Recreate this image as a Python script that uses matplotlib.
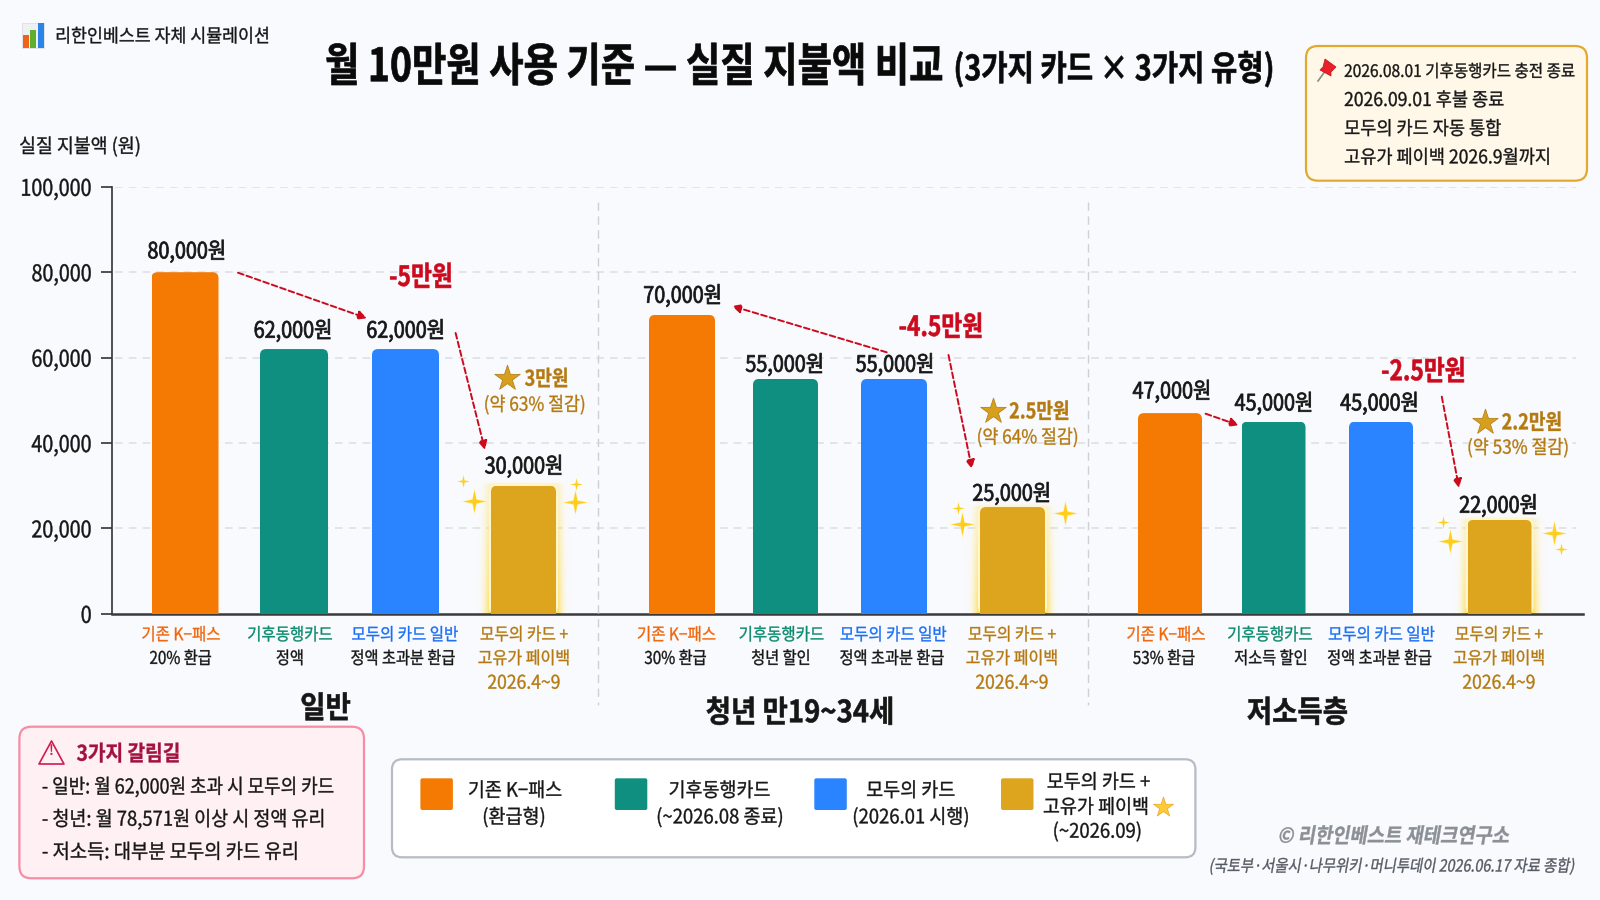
import matplotlib
matplotlib.use('Agg')
import matplotlib.pyplot as plt
import numpy as np
from matplotlib.patches import FancyBboxPatch, Polygon, Rectangle
from matplotlib.path import Path
from matplotlib.patheffects import AbstractPathEffect
from matplotlib.transforms import Affine2D

plt.rcParams['font.family'] = ['Noto Sans CJK KR', 'DejaVu Sans']

# Monthly out-of-pocket cost per card, one list per user group
general = [80000, 62000, 62000, 30000]
youth = [70000, 55000, 55000, 25000]
low_income = [47000, 45000, 45000, 22000]

group_names = ['일반', '청년 만19~34세', '저소득층']
card_names = ['기존 K−패스', '기후동행카드', '모두의 카드 일반']
notes_general = ['20% 환급', '정액', '정액 초과분 환급']
notes_youth = ['30% 환급', '청년 할인', '정액 초과분 환급']
notes_low = ['53% 환급', '저소득 할인', '정액 초과분 환급']
gold_label = ['모두의 카드 +', '고유가 페이백', '2026.4~9']

drop_labels = ['-5만원', '-4.5만원', '-2.5만원']
save_labels = ['3만원', '2.5만원', '2.2만원']
save_notes = ['(약 63% 절감)', '(약 64% 절감)', '(약 53% 절감)']

y_ticks = [0, 20000, 40000, 60000, 80000, 100000]

note_lines = ['2026.08.01 기후동행카드 충전 종료', '2026.09.01 후불 종료',
              '모두의 카드 자동 통합', '고유가 페이백 2026.9월까지']
fork_title = '3가지 갈림길'
fork_lines = ['- 일반: 월 62,000원 초과 시 모두의 카드',
              '- 청년: 월 78,571원 이상 시 정액 유리',
              '- 저소득: 대부분 모두의 카드 유리']

ORANGE = '#F57A03'
GREEN = '#0E8F80'
BLUE = '#2B84FF'
GOLD = '#DDA51E'
BROWN = '#B5790F'
RED = '#CC0A1E'
DARK = '#161616'
BG = '#F9FAFD'
bar_colors = [ORANGE, GREEN, BLUE, GOLD]
label_colors = ['#F0660A', '#0B8A6E', '#1A6FF5']


class Squeeze(AbstractPathEffect):
    # narrows the glyph outlines around the anchor, with optional slant and extra stroke weight
    def __init__(self, sx=0.87, anchor='center', slant=0, stroke=0.25):
        self.sx = sx
        self.anchor = anchor
        self.slant = slant
        self.stroke = stroke

    def draw_path(self, renderer, gc, tpath, affine, rgbFace=None):
        x0, _, x1, _ = tpath.get_extents().extents
        pivot = {'left': x0, 'center': (x0 + x1) / 2, 'right': x1}[self.anchor]
        t = Affine2D().translate(-pivot, 0).scale(self.sx, 1).skew_deg(self.slant, 0).translate(pivot, 0)
        gc0 = renderer.new_gc()
        gc0.copy_properties(gc)
        gc0.set_linewidth(self.stroke)
        gc0.set_foreground(rgbFace)
        renderer.draw_path(gc0, tpath, t + affine, rgbFace)
        gc0.restore()


fig = plt.figure(figsize=(16, 9), dpi=100, facecolor=BG)

# Chart axes use figure pixels across so the groups can be spaced by hand
ax = fig.add_axes([112 / 1600, (900 - 613.8) / 900, (1583 - 112) / 1600, 427 / 900])
ax.set_facecolor('none')

# Overlay for everything placed by pixel
ov = fig.add_axes([0, 0, 1, 1], zorder=5)
ov.set_xlim(0, 1600)
ov.set_ylim(900, 0)
ov.axis('off')


def put(x, y, s, size=13, color=DARK, weight='normal', ha='center', sx=0.87, slant=0, stroke=0.25):
    return ov.text(x, y + 1.2, s, fontsize=size, color=color, fontweight=weight, ha=ha, va='center',
                   path_effects=[Squeeze(sx, ha, slant, stroke)])


def rbox(x0, y0, x1, y1, radius, face, edge='none', lw=0, z=1):
    ov.add_patch(FancyBboxPatch((x0, y0), x1 - x0, y1 - y0, boxstyle=f'round,pad=0,rounding_size={radius}',
                                facecolor=face, edgecolor=edge, linewidth=lw, zorder=z))


# Grid and axis
ax.hlines(y_ticks[1:], 115, 1576, color='#DCDEE2', linewidth=1.1, linestyle=(0, (5, 4)), zorder=0)
for s in ['top', 'right']:
    ax.spines[s].set_visible(False)
ax.spines['left'].set_color('#333333')
ax.spines['left'].set_linewidth(1.2)
ax.spines['bottom'].set_color('#3A3A3A')
ax.spines['bottom'].set_linewidth(1.8)
ax.set_xticks([])
ax.set_yticks(y_ticks)
ax.set_yticklabels([f'{v:,}' for v in y_ticks], fontsize=16.5, color=DARK)
ax.tick_params(axis='y', length=8, width=1.2, color='#333333', pad=6.5)
for lab in ax.get_yticklabels():
    lab.set_path_effects([Squeeze(0.86, 'right', 0, 0.3)])

for xs in [598, 1088]:
    ov.plot([xs, xs], [202, 705], color='#CDD0D5', linewidth=1, linestyle=(0, (6, 4)), zorder=1)

groups = [general, youth, low_income]
notes = [notes_general, notes_youth, notes_low]
centers = [[185, 294, 405.5, 523.5], [682, 785.5, 894, 1012.5], [1170, 1273.5, 1381, 1499.5]]
widths = [[67, 68, 67, 65], [66, 65, 66, 65], [64, 64, 64, 64]]
value_x = [[186.7, 293, 405.6, 524], [682.6, 784.7, 895, 1011.7], [1172, 1274, 1379.6, 1498.5]]
value_y = [[250.7, 330, 330, 465.7], [295, 364, 364, 493], [390.7, 402.7, 402.7, 505]]
name_x = [[181, 290, 405, 524], [676.5, 781.5, 893.4, 1012], [1166, 1270, 1381.6, 1499]]
note_x = [[180.6, 290, 403], [675.5, 781, 892], [1164, 1271, 1379.6]]
group_title_x = [325.5, 800, 1297.5]
group_title_y = [707.7, 712, 712]
y_per_px = 100000 / 427

for g, values in enumerate(groups):
    bars = ax.bar(centers[g], values, width=widths[g], color=bar_colors, zorder=3)
    for i, bar in enumerate(bars):
        x0, w, h = bar.get_x(), bar.get_width(), bar.get_height()
        # round the top corners only, the lower edge runs past the axis
        clip = FancyBboxPatch((x0, -3000), w, h + 3000, boxstyle='round,pad=0,rounding_size=6',
                              mutation_aspect=y_per_px, transform=ax.transData)
        bar.set_clip_path(clip)
        put(value_x[g][i], value_y[g][i], f'{values[i]:,}원', size=16.2, sx=0.88, stroke=0.55)
        if i == 3:
            # soft glow beside the bar, stronger toward the axis
            xx = np.linspace(x0 - 16, x0 + w + 16, 120)
            yy = np.linspace(0, h + 5 * y_per_px, 120)
            gx, gy = np.meshgrid(xx, yy)
            dx = np.clip(np.abs(gx - (x0 + w / 2)) - w / 2, 0, None)
            dy = np.clip(gy - h, 0, None) / y_per_px
            alpha = np.exp(-(dx / 6.5) ** 2) * np.exp(-(dy / 2.5) ** 2) * (0.35 + 0.6 * (1 - np.clip(gy / h, 0, 1)))
            rgba = np.zeros(alpha.shape + (4,))
            rgba[..., :3] = matplotlib.colors.to_rgb('#FFE05A')
            rgba[..., 3] = alpha
            ax.imshow(rgba, extent=(xx[0], xx[-1], 0, yy[-1]), origin='lower', aspect='auto', zorder=2)
            ax.add_patch(FancyBboxPatch((x0 - 2, 0), w + 4, h + 2 * y_per_px, boxstyle='round,pad=0,rounding_size=7',
                                        mutation_aspect=y_per_px, facecolor='#FFF6D0', edgecolor='none', zorder=2.5))
    for i in range(3):
        put(name_x[g][i], 634, card_names[i], size=12.4, color=label_colors[i], sx=0.9)
        put(note_x[g][i], 657.7, notes[g][i], size=12.6, sx=0.87)
    put(name_x[g][3], 634, gold_label[0], size=12.6, color=BROWN, sx=0.9)
    put(name_x[g][3], 657.7, gold_label[1], size=12.6, color=BROWN, sx=0.92)
    put(name_x[g][3], 682, gold_label[2], size=13.6, color=BROWN, sx=0.93)
    put(group_title_x[g], group_title_y[g], group_names[g], size=22, weight='bold', sx=0.9, stroke=0.4)

ax.set_xlim(112, 1583)
ax.set_ylim(0, 100000)

# Dashed drop arrows between bars
arrows = [((238, 272.7), (367, 318.3)), ((455.6, 333), (485, 450)),
          ((886.7, 352.3), (732, 306)), ((948.5, 355), (972, 469)),
          ((1205.6, 413.7), (1238.8, 425.3)), ((1441.8, 396.7), (1459, 488))]
for a, b in arrows:
    ov.annotate('', xy=b, xytext=a, arrowprops=dict(arrowstyle='-|>', color=RED, linewidth=1.4, linestyle=(0, (3, 1.6)),
                                                    mutation_scale=13, shrinkA=0, shrinkB=0), zorder=4)

drop_pos = [(421, 276.7), (941, 326.7), (1423.5, 371)]
for (x, y), s in zip(drop_pos, drop_labels):
    put(x, y, s, size=20, color=RED, weight='bold', sx=0.82, stroke=0.4)

# Savings callouts beside the gold bars
star_pos = [(506.6, 378), (993, 410.7), (1484.7, 421.7)]
save_left = [524.5, 1009, 1501.5]
save_note_pos = [(534.7, 404), (1027.6, 436.7), (1518, 447)]
for i in range(3):
    ov.scatter(*star_pos[i], marker='*', s=370, color='#D6A01E', edgecolor='#B5831A', linewidth=0.6, zorder=4)
    put(save_left[i], star_pos[i][1], save_labels[i], size=15.5, color=BROWN, weight='bold', ha='left', sx=0.84)
    put(*save_note_pos[i], save_notes[i], size=13.8, color=BROWN, sx=0.9)

# Sparkles around the gold bars
sparkle = Path([(0, 1), (0.17, 0.17), (1, 0), (0.17, -0.17), (0, -1), (-0.17, -0.17), (-1, 0), (-0.17, 0.17), (0, 1)])
big = [(473.5, 500.7), (574.5, 502), (961.7, 524), (1065, 513), (1449.5, 540.7), (1553.6, 532.7)]
small = [(463, 480.7), (575.5, 484), (958, 508), (1443, 521.7), (1561, 549)]
for pts, size in [(big, 270), (small, 75)]:
    ov.scatter(*zip(*pts), marker=sparkle, s=size * 1.6, color='#FFF3B0', alpha=0.6, linewidth=0, zorder=4)
    ov.scatter(*zip(*pts), marker=sparkle, s=size, color='#FFCE1F', linewidth=0, zorder=4)

# Header
ov.add_patch(Rectangle((21.5, 23), 22.5, 25, facecolor='#EEF0F3', edgecolor='#DDDFE3', linewidth=0.6))
ov.add_patch(Rectangle((22.5, 35), 6, 13, facecolor='#F0621A', edgecolor='none'))
ov.add_patch(Rectangle((30, 30), 6, 18, facecolor='#5FAE2E', edgecolor='none'))
ov.add_patch(Rectangle((37.5, 23), 6, 25, facecolor='#2B84E8', edgecolor='none'))
put(55, 36, '리한인베스트 자체 시뮬레이션', size=13.4, ha='left', sx=0.93)
# title sits right-aligned against the bracket part so the two stay apart
put(943, 67, '월 10만원 사용 기준 — 실질 지불액 비교', size=33, color='#0A0A0A', weight='bold', ha='right', sx=0.815, stroke=0.5)
put(953, 68, '(3가지 카드 × 3가지 유형)', size=25, color='#0A0A0A', weight='bold', ha='left', sx=0.825, stroke=0.4)
put(19, 146, '실질 지불액 (원)', size=14.2, ha='left', sx=0.93)

# Schedule note, top right
rbox(1306, 46, 1587, 180.7, 12, '#FFF8E9', '#E3A92E', 1.6)
put(1344, 70.7, note_lines[0], size=12.3, ha='left', sx=0.91)
for y, line in zip([99.3, 128, 156.7], note_lines[1:]):
    put(1344, y, line, size=13.6, ha='left', sx=0.93)
ov.plot([1318, 1326], [81, 70], color='#8A8A8A', linewidth=1.2, zorder=3)
ov.add_patch(Polygon([(1325, 59), (1336, 67), (1331, 72), (1331, 76), (1320, 70), (1323, 67)], facecolor='#E8202A',
                     edgecolor='#C4101A', linewidth=0.5, zorder=4))

# Warning box, lower left
rbox(19.4, 726.7, 364, 878.3, 12, '#FFF0F3', '#F58DA5', 1.6)
ov.add_patch(Polygon([(51.5, 741), (64, 764), (39, 764)], closed=True, facecolor='none', edgecolor='#D01C50',
                     linewidth=1.2, joinstyle='round', zorder=3))
put(51.5, 749.5, '!', size=10, color='#D01C50', sx=1)
put(76.5, 753, fork_title, size=15.5, color='#A3123F', weight='bold', ha='left', sx=0.89)
for y, line, squeeze in zip([786.7, 819, 851.7], fork_lines, [0.885, 0.91, 0.925]):
    put(41.8, y, line, size=14.6, ha='left', sx=squeeze)

# Legend panel
rbox(392, 759.3, 1195.4, 857.3, 10, 'white', '#B6BBC5', 1.6)
swatch_x = [420.4, 614.8, 814.3, 1001]
for x, c in zip(swatch_x, bar_colors):
    rbox(x, 778.3, x + 32.5, 810, 2, c, z=2)
legend_text = [(515, 790, '기존 K−패스'), (514, 816.7, '(환급형)'), (719.4, 790, '기후동행카드'),
               (720, 816.7, '(~2026.08 종료)'), (910.7, 790, '모두의 카드'), (911, 816.7, '(2026.01 시행)'),
               (1098.5, 781.7, '모두의 카드 +'), (1096, 806.7, '고유가 페이백'), (1097.4, 831, '(~2026.09)')]
for x, y, s in legend_text:
    put(x, y, s, size=14.3, sx=0.93)
ov.scatter(1162.8, 806.7, marker='*', s=230, color='#FFC93C', edgecolor='#E8A820', linewidth=0.5, zorder=4)

# Credits
put(1393, 835, '© 리한인베스트 재테크연구소', size=15, color='#8B9097', weight='bold', sx=0.9, slant=10)
put(1576, 865.7, '(국토부·서울시·나무위키·머니투데이 2026.06.17 자료 종합)', size=12, color='#555A62', ha='right', sx=0.86, slant=10)

fig.savefig('out.png', dpi=100, facecolor=BG)
plt.close(fig)
